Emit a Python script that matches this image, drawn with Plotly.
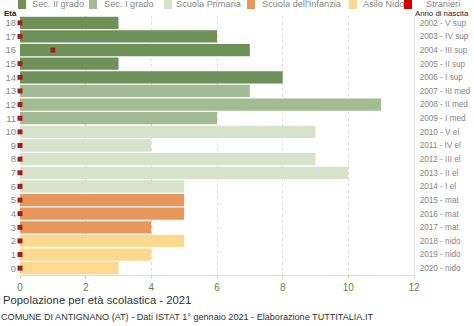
import plotly.graph_objects as go

ages = list(range(19))
totals = [3, 4, 5, 4, 5, 5, 5, 10, 9, 4, 9, 6, 11, 7, 8, 3, 7, 6, 3]
foreign = [0, 0, 0, 0, 0, 0, 0, 0, 0, 0, 0, 0, 0, 0, 0, 0, 1, 0, 0]
birth_labels = ["2020 - nido", "2019 - nido", "2018 - nido", "2017 - mat", "2016 - mat",
                "2015 - mat", "2014 - I el", "2013 - II el", "2012 - III el", "2011 - IV el",
                "2010 - V el", "2009 - I med", "2008 - II med", "2007 - III med", "2006 - I sup",
                "2005 - II sup", "2004 - III sup", "2003 - IV sup", "2002 - V sup"]
groups = [
    ("Sec. II grado", [14, 15, 16, 17, 18], "#6e9159"),
    ("Sec. I grado", [11, 12, 13], "#a3bb93"),
    ("Scuola Primaria", [6, 7, 8, 9, 10], "#d6e2c9"),
    ("Scuola dell'Infanzia", [3, 4, 5], "#e8975a"),
    ("Asilo Nido", [0, 1, 2], "#fdd88f"),
]
legend_names = ["Sec. II grado", "Sec. I grado", "Scuola Primaria", "Scuola dell'Infanzia", "Asilo Nido", "Stranieri"]
legend_colors = ["#6e9159", "#a3bb93", "#d6e2c9", "#e8975a", "#fdd88f", "#d40000"]
legend_x = [18, 89, 164, 247, 349, 404]
legend_tx = [31, 103, 175, 261, 362, 425]

fig = go.Figure()
for name, idx, col in groups:
    fig.add_trace(go.Bar(
        x=[totals[i] for i in idx], y=idx, orientation="h",
        marker=dict(color=col, line=dict(width=0)), name=name, showlegend=False))
fig.add_trace(go.Scatter(
    x=foreign, y=ages, mode="markers",
    marker=dict(symbol="square", size=5, color="#a51c1c"),
    showlegend=False, cliponaxis=False))
fig.add_trace(go.Scatter(x=[0], y=[0], yaxis="y2", mode="markers",
                         marker=dict(opacity=0), showlegend=False, hoverinfo="skip"))

W, H = 474, 326
ml, mr, mt, mb = 20, 60, 16, 51
PW, PH = W - ml - mr, H - mt - mb


def px2x(px):
    return (px - ml) / PW


def py2y(py):
    return (H - mb - py) / PH


for name, col, lx in zip(legend_names, legend_colors, legend_x):
    fig.add_shape(type="rect", xref="paper", yref="paper",
                  x0=px2x(lx), x1=px2x(lx + 8),
                  y0=py2y(9), y1=py2y(-1),
                  fillcolor=col, line=dict(width=0), layer="above")

fig.update_layout(
    width=W, height=H,
    margin=dict(l=ml, r=mr, t=mt, b=mb, pad=0, autoexpand=False),
    paper_bgcolor="white", plot_bgcolor="white",
    font=dict(family="Liberation Sans, Arial, sans-serif", size=10, color="#777"),
    barmode="overlay", bargap=0.1,
    xaxis=dict(range=[0, 12], tickvals=[0, 2, 4, 6, 8, 10, 12],
               tickfont=dict(color="#5a8a3a", size=10),
               showgrid=True, gridcolor="rgba(200,200,200,0.6)", griddash="dot",
               zeroline=False, showline=True, linecolor="#dddddd",
               ticks="outside", ticklen=3, tickcolor="#cccccc",
               layer="above traces", fixedrange=True, automargin=False),
    yaxis=dict(range=[-0.5, 18.5], tickvals=ages, ticktext=[str(a) for a in ages],
               tickfont=dict(color="#888", size=9.5), showgrid=False, zeroline=False,
               ticks="", ticklabelstandoff=3, automargin=False),
    yaxis2=dict(range=[-0.5, 18.5], overlaying="y", side="right",
                tickvals=ages, ticktext=birth_labels,
                tickfont=dict(color="#888", size=8.2), showgrid=False, zeroline=False,
                showline=True, linecolor="#e6e6e6", ticks="", ticklabelstandoff=3,
                automargin=False),
    showlegend=False,
)

ann = []
for name, tx in zip(legend_names, legend_tx):
    ann.append(dict(text=name, x=tx, y=4, xanchor="left", yanchor="middle"))
ann.append(dict(text="<b>Età</b>", x=3, y=13, xanchor="left", yanchor="middle",
                font=dict(size=8, color="#222")))
ann.append(dict(text="Anno di nascita", x=414, y=13.5, xanchor="left", yanchor="middle",
                font=dict(size=7.8, color="#222")))
ann.append(dict(text="Popolazione per età scolastica - 2021", x=2, y=300,
                xanchor="left", yanchor="middle", font=dict(size=11.3, color="#333")))
ann.append(dict(text="COMUNE DI ANTIGNANO (AT) - Dati ISTAT 1° gennaio 2021 - Elaborazione TUTTITALIA.IT",
                x=0, y=317, xanchor="left", yanchor="middle", font=dict(size=9.1, color="#333")))
for a in ann:
    px, py = a.pop("x"), a.pop("y")
    a.update(xref="paper", yref="paper", showarrow=False, borderpad=0,
             x=px2x(px), y=py2y(py))
    a.setdefault("font", dict(size=9.2, color="#888"))
    fig.add_annotation(**a)

fig.write_html("out.html")
